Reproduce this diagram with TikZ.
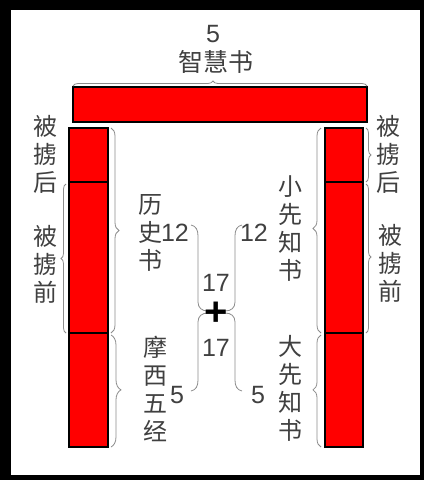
\documentclass[tikz,border=0pt]{standalone}
\usepackage{fontspec}
\setmainfont{Liberation Sans}
\newfontfamily\cjk{Noto Sans CJK SC}
\usetikzlibrary{decorations.pathreplacing}
\definecolor{txt}{HTML}{404040}
\definecolor{bracegray}{HTML}{8C8C8C}
\definecolor{redfill}{HTML}{FF0000}
\tikzset{
  redbox/.style={draw=black, line width=1.2pt, fill=redfill, inner sep=0pt},
  vlab/.style={text=txt, font=\cjk\fontsize{24}{28}\selectfont, align=center, inner sep=0pt},
  hlab/.style={text=txt, font=\cjk\fontsize{25}{28}\selectfont, inner sep=0pt},
  num/.style={text=txt, font=\fontsize{25}{27}\selectfont, inner sep=0pt},
  bracestyle/.style={draw=bracegray, line width=0.8pt, decorate},
  ubr/.style={draw=bracegray, line width=0.8pt},
}
\begin{document}
\begin{tikzpicture}[x=1pt,y=1pt]
\useasboundingbox (0,0) rectangle (424,-480);
\fill[black] (0,0) rectangle (424,-480);
\fill[white] (11,-10) rectangle (420,-475);

% red blocks
\node[redbox, minimum width=294pt, minimum height=35pt] (top) at (220,-104.5) {};
\node[redbox, minimum width=39pt, minimum height=54pt] (l1) at (88.5,-155) {};
\node[redbox, minimum width=39pt, minimum height=151pt] (l2) at (88.5,-257.5) {};
\node[redbox, minimum width=39pt, minimum height=114pt] (l3) at (88.5,-390) {};
\node[redbox, minimum width=38pt, minimum height=54pt] (r1) at (344,-155) {};
\node[redbox, minimum width=38pt, minimum height=151pt] (r2) at (344,-257.5) {};
\node[redbox, minimum width=38pt, minimum height=114pt] (r3) at (344,-390) {};

% braces
\draw[bracestyle, decoration={brace, amplitude=5pt, aspect=0.476}] (73,-86) -- (367,-86);
\draw[bracestyle, decoration={brace, amplitude=8pt}] (111,-128) -- (111,-333);
\draw[bracestyle, decoration={brace, amplitude=10pt, aspect=0.49}] (111,-335) -- (111,-447);
\draw[bracestyle, decoration={brace, amplitude=5pt}] (66,-333) -- (66,-184);
\draw[bracestyle, decoration={brace, amplitude=5pt}] (366,-128) -- (366,-182);
\draw[bracestyle, decoration={brace, amplitude=5pt, aspect=0.49}] (366,-184) -- (366,-333);
\draw[bracestyle, decoration={brace, amplitude=8pt, aspect=0.51}] (321,-333) -- (321,-128);
\draw[bracestyle, decoration={brace, amplitude=8pt, aspect=0.51}] (321,-447) -- (321,-335);

% central brackets
\draw[ubr] (191,-225) .. controls (196,-226) and (198,-230) .. (198,-236) -- (198,-302)
  .. controls (198,-308) and (202,-311) .. (208,-311) -- (225,-311)
  .. controls (231,-311) and (235,-308) .. (235,-302) -- (235,-236)
  .. controls (235,-230) and (237,-226) .. (242,-225);
\draw[ubr] (191,-391) .. controls (196,-390) and (198,-386) .. (198,-380) -- (198,-322)
  .. controls (198,-316) and (202,-313) .. (208,-313) -- (225,-313)
  .. controls (231,-313) and (235,-316) .. (235,-322) -- (235,-380)
  .. controls (235,-386) and (237,-390) .. (242,-391);
\node[inner sep=0pt, text=black, font=\bfseries\fontsize{40}{40}\selectfont] (plus) at (216,-314) {+};

% texts
\node[num] (n5top) at (213,-34) {5};
\node[hlab] (zhs) at (216,-62) {智慧书};
\node[vlab] (lbh) at (45,-154) {被\\掳\\后};
\node[vlab] (lbq) at (45,-264) {被\\掳\\前};
\node[vlab] (rbh) at (388,-154) {被\\掳\\后};
\node[vlab] (rbq) at (390,-263) {被\\掳\\前};
\node[vlab] (lss) at (150,-233) {历\\史\\书};
\node[vlab] (xxz) at (290,-228.5) {小\\先\\知\\书};
\node[vlab] (mxwj) at (155,-388.5) {摩\\西\\五\\经};
\node[vlab] (dxz) at (290,-388.5) {大\\先\\知\\书};
\node[num] (n12l) at (175,-233) {12};
\node[num] (n12r) at (254,-233) {12};
\node[num] (n17u) at (216,-283) {17};
\node[num] (n17d) at (216,-348) {17};
\node[num] (n5l) at (177,-395) {5};
\node[num] (n5r) at (258,-395) {5};
\end{tikzpicture}
\end{document}
